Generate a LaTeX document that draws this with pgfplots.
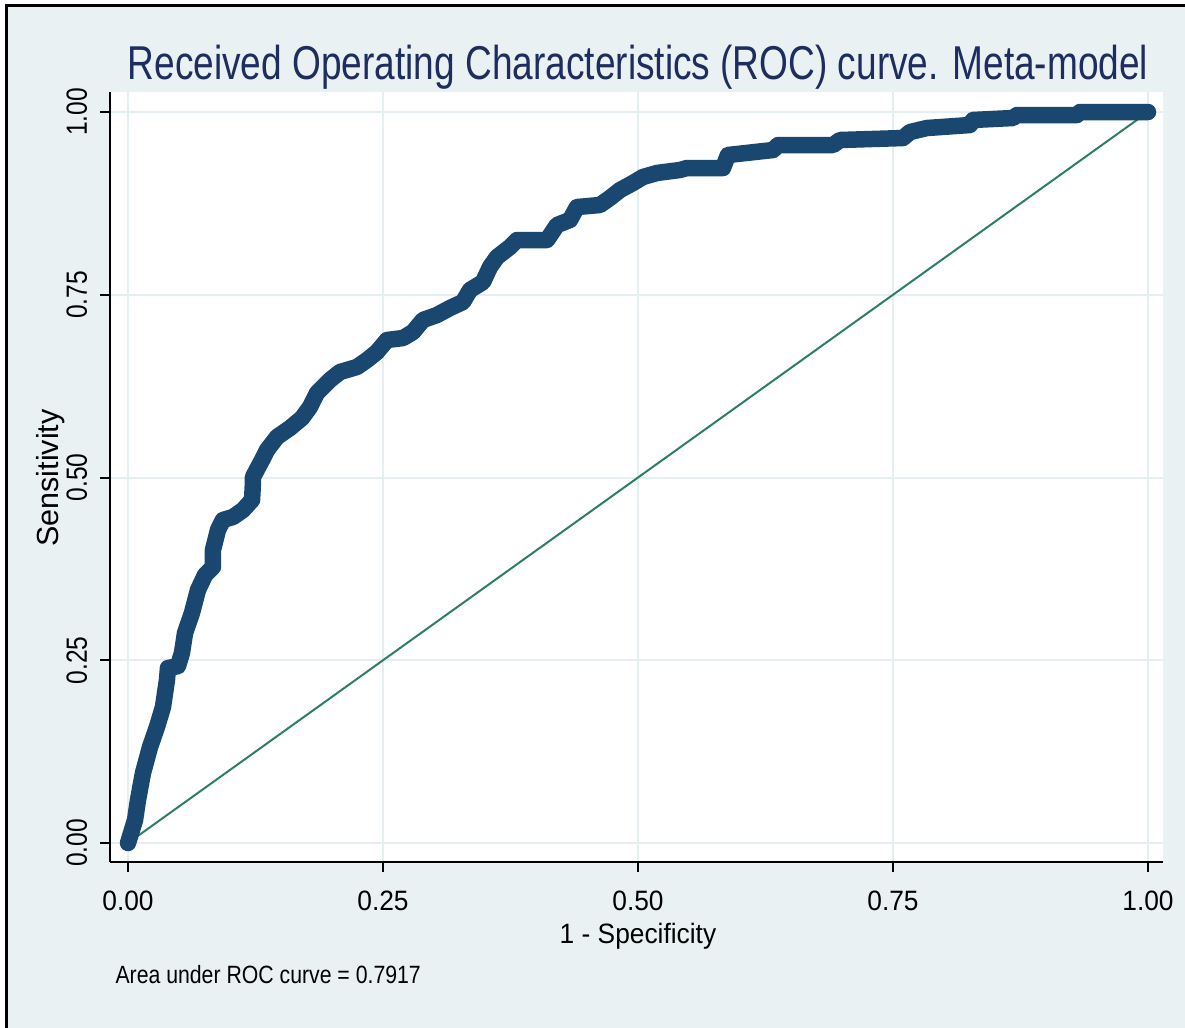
\documentclass[border=0pt]{standalone}
\usepackage{pgfplots}
\pgfplotsset{compat=1.18}
\usepackage{fontspec}
\setmainfont{Liberation Sans}
\usepackage{graphicx}
\definecolor{bgc}{RGB}{234,241,243}
\definecolor{gridc}{RGB}{229,238,240}
\definecolor{navyc}{RGB}{26,71,111}
\definecolor{diagc}{RGB}{45,125,105}
\definecolor{titlec}{RGB}{30,45,95}
\begin{document}
\begin{tikzpicture}
\useasboundingbox (0,0) rectangle (474pt,-410.8pt);
\fill[white] (0,0) rectangle (474pt,-410.8pt);
\draw[line width=1.2pt, fill=bgc] (2.4pt,-2pt) rectangle (480pt,-420pt);
\begin{axis}[
  at={(44pt,-344.8pt)}, anchor=south west,
  width=421.2pt, height=308pt, scale only axis,
  xmin=-0.017647, xmax=1.014706, ymin=-0.02599, ymax=1.02736,
  axis background/.style={fill=white},
  axis x line*=bottom, axis y line*=left,
  x axis line style={-, line width=0.8pt, black},
  y axis line style={-, line width=0.8pt, black},
  xtick={0,0.25,0.5,0.75,1}, ytick={0,0.25,0.5,0.75,1},
  tick align=outside, major tick length=4pt,
  tick style={black, line width=0.8pt},
  grid=major, grid style={gridc, line width=0.8pt},
  /pgf/number format/.cd, fixed, fixed zerofill, precision=2, assume math mode=true,
  /pgfplots/.cd,
  xticklabel={\scalebox{0.94}[1]{\pgfmathprintnumber{\tick}}},
  yticklabel={\scalebox{0.84}[1]{\pgfmathprintnumber{\tick}}},
  xticklabel style={font=\fontsize{11.2}{13}\selectfont, anchor=base, yshift=-15.2pt},
  yticklabel style={font=\fontsize{11.7}{13}\selectfont, rotate=90, anchor=base, yshift=5.2pt},
  xlabel={\scalebox{0.94}[1]{1 - Specificity}},
  ylabel={Sensitivity},
  every axis x label/.style={at={(axis description cs:0.5014,-0.1052)}, anchor=base, font=\fontsize{11.2}{13}\selectfont},
  every axis y label/.style={at={(axis description cs:-0.0485,0.4987)}, anchor=base, rotate=90, font=\fontsize{12.2}{14}\selectfont},
  clip=false,
]
\addplot[diagc, line width=0.8pt] coordinates {(0,0) (1,1)};
\addplot[navyc, line width=6.6pt, line join=round, line cap=round] coordinates {
(0,0) (0.0069,0.0315) (0.0098,0.0588) (0.0147,0.0958) (0.0216,0.1313)
(0.0284,0.1587) (0.0343,0.1860) (0.0382,0.2230) (0.0392,0.2394) (0.049,0.242)
(0.0529,0.260) (0.0559,0.2873) (0.0627,0.3146) (0.0686,0.3461) (0.0755,0.3666)
(0.0833,0.3776) (0.0833,0.4008) (0.0882,0.4282) (0.0931,0.4419) (0.1029,0.4460)
(0.1127,0.4555) (0.1216,0.4692) (0.1225,0.4925) (0.1225,0.5007) (0.1314,0.5239)
(0.1363,0.5376) (0.1461,0.5554) (0.1588,0.5677) (0.1706,0.5814) (0.1784,0.5964)
(0.1853,0.6156) (0.1980,0.6334) (0.2078,0.6443) (0.2245,0.6512) (0.2343,0.6607)
(0.2441,0.6717) (0.2539,0.6881) (0.2696,0.6908) (0.2794,0.6990) (0.2892,0.7155)
(0.3029,0.7223) (0.3157,0.7319) (0.3284,0.7401) (0.3353,0.7565) (0.3480,0.7674)
(0.3549,0.7880) (0.3618,0.8016) (0.3745,0.8153) (0.3814,0.8249) (0.4108,0.8249)
(0.4206,0.8454) (0.4333,0.8523) (0.4402,0.8700) (0.4627,0.8728) (0.4725,0.8824)
(0.4824,0.8933) (0.4951,0.9029) (0.5049,0.9111) (0.5186,0.9166) (0.5412,0.9207)
(0.5480,0.9234) (0.5833,0.9234) (0.5882,0.9412) (0.6324,0.9480) (0.6373,0.9548)
(0.6912,0.9548) (0.6980,0.9617) (0.7598,0.9644) (0.7667,0.9726) (0.7833,0.9781)
(0.8255,0.9822) (0.8284,0.9891) (0.8676,0.9918) (0.8716,0.9959) (0.9304,0.9959)
(0.9333,1.0) (1,1)
};
\end{axis}
\node[titlec, anchor=base, font=\fontsize{19}{22}\selectfont] at (255.2pt,-31.6pt) {\scalebox{0.78}[1]{Received Operating Characteristics (ROC) curve. Meta-model}};
\node[anchor=base west, inner sep=0pt, font=\fontsize{10}{12}\selectfont] at (46pt,-393.2pt) {\scalebox{0.85}[1]{Area under ROC curve = 0.7917}};
\end{tikzpicture}
\end{document}
